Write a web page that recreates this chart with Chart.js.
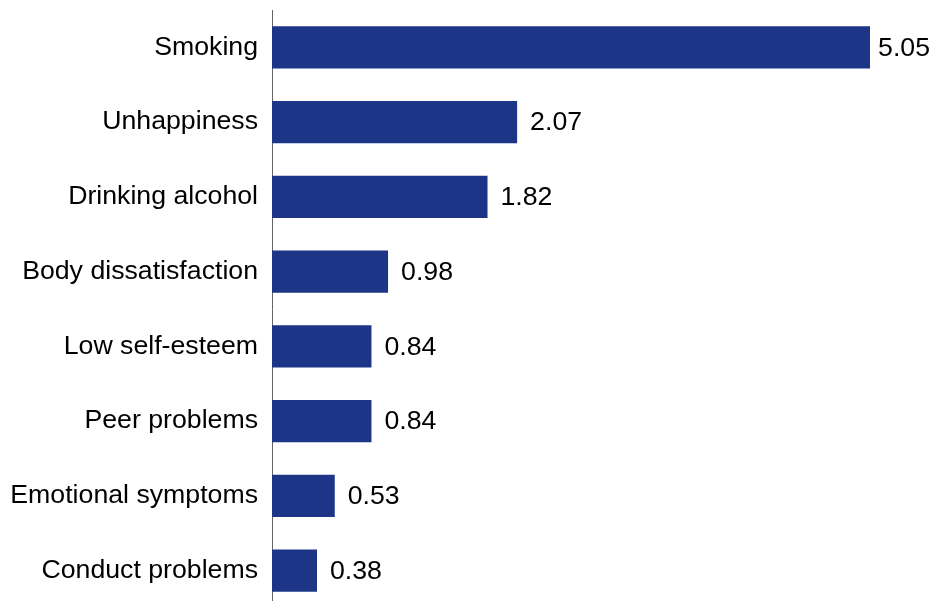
<!DOCTYPE html>
<html>
<head>
<meta charset="utf-8">
<script src="https://cdn.jsdelivr.net/npm/chart.js@4"></script>
<style>
  html, body { margin: 0; padding: 0; overflow: hidden; background: #fff; }
  #wrap { position: absolute; left: 0; top: 0; width: 931px; height: 608px; }
</style>
</head>
<body>
<div id="wrap"><canvas id="c"></canvas></div>
<script>
const categories = ["Smoking", "Unhappiness", "Drinking alcohol", "Body dissatisfaction", "Low self-esteem", "Peer problems", "Emotional symptoms", "Conduct problems"];
const values = [5.05, 2.07, 1.82, 0.98, 0.84, 0.84, 0.53, 0.38];
const valueLabels = ["5.05", "2.07", "1.82", "0.98", "0.84", "0.84", "0.53", "0.38"];

const FONT = '"Liberation Sans", Arial, sans-serif';
const FSIZE = 26.7;

const valuePlugin = {
  id: 'valueLabels',
  afterDatasetsDraw(chart) {
    const ctx = chart.ctx;
    const meta = chart.getDatasetMeta(0);
    ctx.save();
    ctx.font = FSIZE + 'px ' + FONT;
    ctx.fillStyle = '#000';
    ctx.textAlign = 'left';
    ctx.textBaseline = 'middle';
    meta.data.forEach((bar, i) => {
      const w = ctx.measureText(valueLabels[i]).width;
      const x = Math.min(bar.x + 13, chart.width - w - 1);
      ctx.fillText(valueLabels[i], x, bar.y + 1);
    });
    ctx.restore();
  }
};

new Chart(document.getElementById('c'), {
  type: 'bar',
  data: {
    labels: categories,
    datasets: [{
      data: values,
      backgroundColor: '#1c3587',
      borderWidth: 0,
      barPercentage: 0.563,
      categoryPercentage: 1.0
    }]
  },
  options: {
    indexAxis: 'y',
    responsive: true,
    maintainAspectRatio: false,
    animation: false,
    layout: { padding: { top: 10, right: 61, bottom: 0, left: 0 } },
    plugins: { legend: { display: false }, tooltip: { enabled: false } },
    scales: {
      x: {
        display: false,
        min: 0,
        max: 5.05
      },
      y: {
        grid: { display: false, drawTicks: false },
        border: { display: true, color: '#666', width: 1 },
        ticks: {
          color: '#000',
          padding: 14,
          font: { family: FONT, size: FSIZE }
        },
        afterFit(scale) {
          scale.width = 272;
          scale.paddingTop = 0;
          scale.paddingBottom = 0;
        }
      }
    }
  },
  plugins: [valuePlugin]
});
</script>
</body>
</html>
